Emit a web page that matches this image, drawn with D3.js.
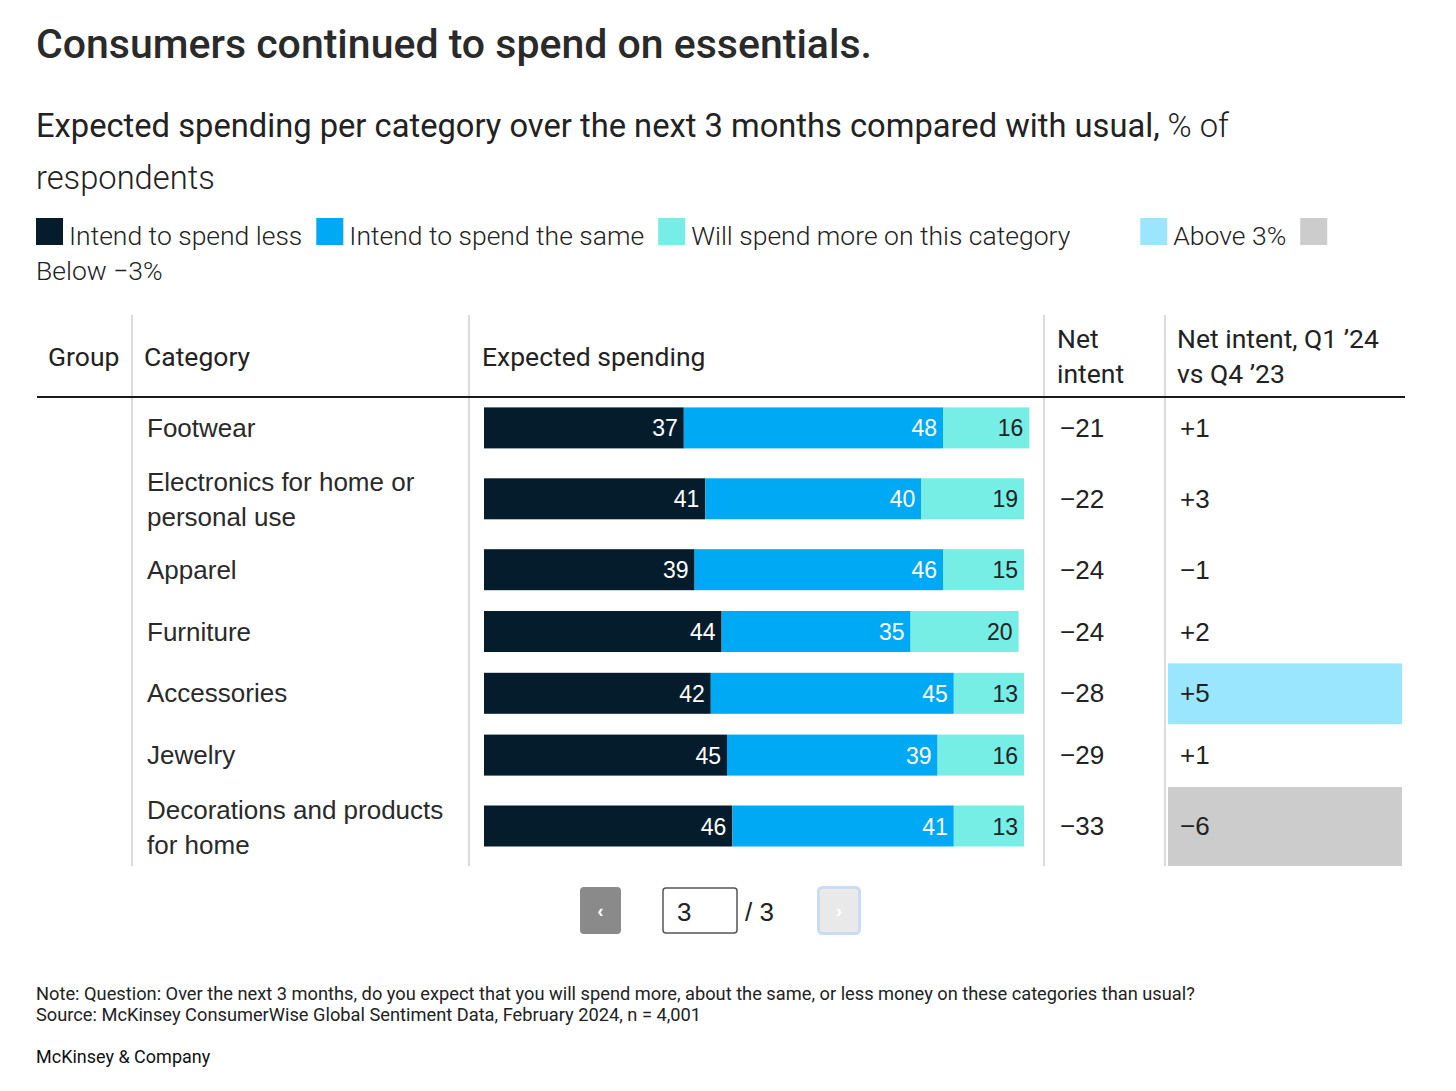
<!DOCTYPE html>
<html>
<head>
<meta charset="utf-8">
<script src="https://cdn.jsdelivr.net/npm/d3@7"></script>
<style>
  html, body { margin: 0; padding: 0; background: #fff; }
  svg { display: block; }
</style>
</head>
<body>
<svg id="chart" width="1456" height="1091"></svg>
<script>
// data
const categories = ["Footwear", "Electronics for home or personal use", "Apparel", "Furniture",
                    "Accessories", "Jewelry", "Decorations and products for home"];
const spendLess = [37, 41, 39, 44, 42, 45, 46];
const spendSame = [48, 40, 46, 35, 45, 39, 41];
const spendMore = [16, 19, 15, 20, 13, 16, 13];
const netIntent = [-21, -22, -24, -24, -28, -29, -33];
const netChange = [1, 3, -1, 2, 5, 1, -6];

const seriesNames = ["Intend to spend less", "Intend to spend the same", "Will spend more on this category"];
const seriesColors = ["#051c2c", "#00a9f4", "#76ede5"];
const highlightNames = ["Above 3%", "Below \u22123%"];
const highlightColors = ["#99e6fe", "#cccccc"];

const headFont = "Roboto, 'Noto Sans', sans-serif",
      bodyFont = "'Liberation Sans', Arial, sans-serif",
      ink = "#222";

const svg = d3.select("#chart");

// --- title block ---
svg.append("text")
    .attr("x", 36).attr("y", 58)
    .style("font-family", headFont).style("font-weight", 500).style("font-size", "41px")
    .style("fill", "#2a2a2a")
    .text("Consumers continued to spend on essentials.");

const sub = svg.append("text")
    .attr("x", 36).attr("y", 137)
    .style("font-family", headFont).style("font-size", "32.7px").style("fill", ink);
sub.append("tspan").style("font-weight", 400)
    .text("Expected spending per category over the next 3 months compared with usual,");
sub.append("tspan").style("font-weight", 300).text(" % of");
svg.append("text")
    .attr("x", 36).attr("y", 189)
    .style("font-family", headFont).style("font-weight", 300).style("font-size", "32.7px").style("fill", ink)
    .text("respondents");

// --- legend (flows like inline html) ---
const legendItems = seriesNames.map((n, i) => ({name: n, color: seriesColors[i], gap: 0}))
    .concat(highlightNames.map((n, i) => ({name: n, color: highlightColors[i], gap: i === 0 ? 56 : 0})));

const legend = svg.append("g").attr("class", "legend");
let lx = 36, ly = 245;
const sw = 27, lineH = 35, maxX = 1400;
legendItems.forEach(item => {
    lx += item.gap;
    legend.append("rect")
        .attr("x", lx).attr("y", ly - sw).attr("width", sw).attr("height", sw)
        .attr("fill", item.color);
    lx += sw + 6;
    const t = legend.append("text")
        .style("font-family", headFont).style("font-weight", 300).style("font-size", "26.5px")
        .style("fill", ink)
        .text(item.name);
    const w = t.node().getComputedTextLength();
    if (lx + w > maxX) { lx = 36; ly += lineH; }
    t.attr("x", lx).attr("y", ly);
    lx += w + 14;
});

// --- table layout ---
const tableTop = 397, tableLeft = 37, tableRight = 1405;
const cols = {group: 48, category: 147, bars: 469, net: 1044, change: 1165};
const lineW = 310;

// wrap category names
const measure = svg.append("text")
    .style("font-family", bodyFont).style("font-size", "26px").style("visibility", "hidden");
function wrap(str) {
    const words = str.split(" "), lines = [];
    let cur = "";
    words.forEach(w => {
        const test = cur ? cur + " " + w : w;
        measure.text(test);
        if (measure.node().getComputedTextLength() > lineW && cur) { lines.push(cur); cur = w; }
        else cur = test;
    });
    lines.push(cur);
    return lines;
}
const rows = categories.map((c, i) => ({
    name: c, lines: wrap(c),
    less: spendLess[i], same: spendSame[i], more: spendMore[i],
    net: netIntent[i], change: netChange[i]
}));
measure.remove();

rows.forEach(r => r.h = r.lines.length > 1 ? 80 : 61.8);
const ends = d3.cumsum(rows, r => r.h);
rows.forEach((r, i) => { r.y0 = tableTop + ends[i] - r.h; r.cy = r.y0 + r.h / 2; });
const tableBottom = tableTop + ends[ends.length - 1];

const x = d3.scaleLinear().domain([0, 100]).range([484, 1024]);
const barH = 41;

// highlight cells for the change column
const g = svg.append("g");
g.selectAll(".hl")
    .data(rows.filter(r => Math.abs(r.change) > 3))
    .join("rect")
    .attr("class", "hl")
    .attr("x", cols.change + 3).attr("width", 1402 - cols.change - 3)
    .attr("y", r => r.y0 + 1).attr("height", r => r.h - 1)
    .attr("fill", r => r.change > 3 ? highlightColors[0] : highlightColors[1]);

// column separators
[132, cols.bars, cols.net, cols.change].forEach(cx => {
    g.append("line")
        .attr("x1", cx).attr("x2", cx).attr("y1", 315).attr("y2", tableBottom)
        .attr("stroke", "#cfcfcf").attr("stroke-width", 1.5);
});

// header
const head = g.append("g")
    .style("font-family", headFont).style("font-size", "26.5px").style("fill", ink);
head.append("text").attr("x", 48).attr("y", 366).text("Group");
head.append("text").attr("x", 144).attr("y", 366).text("Category");
head.append("text").attr("x", 482).attr("y", 366).text("Expected spending");
head.append("text").attr("x", 1057).attr("y", 348).text("Net");
head.append("text").attr("x", 1057).attr("y", 383).text("intent");
head.append("text").attr("x", 1177).attr("y", 348).text("Net intent, Q1 \u201924");
head.append("text").attr("x", 1177).attr("y", 383).text("vs Q4 \u201923");

g.append("line")
    .attr("x1", tableLeft).attr("x2", tableRight).attr("y1", tableTop).attr("y2", tableTop)
    .attr("stroke", "#1a1a1a").attr("stroke-width", 2);

// category labels
const lab = g.selectAll(".cat").data(rows).join("text")
    .attr("class", "cat")
    .style("font-family", bodyFont).style("font-size", "26px").style("fill", "#2a2a2a")
    .attr("x", cols.category)
    .attr("y", r => r.cy + 9 - (r.lines.length - 1) * 16.5);
lab.selectAll("tspan").data(r => r.lines).join("tspan")
    .attr("x", cols.category).attr("dy", (d, i) => i ? 35 : 0).text(d => d);

// stacked bars
const stack = d3.stack().keys(["less", "same", "more"])(rows);
const layer = g.selectAll(".layer").data(stack).join("g")
    .attr("class", "layer").attr("fill", (d, i) => seriesColors[i]);
layer.selectAll("rect").data(d => d).join("rect")
    .attr("x", d => x(d[0]))
    .attr("width", d => x(d[1]) - x(d[0]))
    .attr("y", d => d.data.cy - barH / 2)
    .attr("height", barH);
layer.selectAll("text").data(d => d).join("text")
    .attr("x", d => x(d[1]) - 6)
    .attr("y", d => d.data.cy + 8.5)
    .attr("text-anchor", "end")
    .style("font-family", bodyFont).style("font-size", "23px")
    .style("fill", function() { return d3.select(this.parentNode).datum().key === "more" ? ink : "#fff"; })
    .text(d => d[1] - d[0]);

// net intent and change
const fmtNet = v => (v < 0 ? "\u2212" : "+") + Math.abs(v);
g.selectAll(".net").data(rows).join("text")
    .attr("class", "net")
    .attr("x", 1060).attr("y", r => r.cy + 9)
    .style("font-family", bodyFont).style("font-size", "26px").style("fill", ink)
    .text(r => fmtNet(r.net));
g.selectAll(".chg").data(rows).join("text")
    .attr("class", "chg")
    .attr("x", 1180).attr("y", r => r.cy + 9)
    .style("font-family", bodyFont).style("font-size", "26px").style("fill", ink)
    .text(r => fmtNet(r.change));

// --- pagination ---
const pg = svg.append("g");
pg.append("rect").attr("x", 580).attr("y", 887).attr("width", 41).attr("height", 47)
    .attr("rx", 4).attr("fill", "#8a8a8a");
pg.append("text").attr("x", 600.5).attr("y", 917).attr("text-anchor", "middle")
    .style("font-family", bodyFont).style("font-weight", 700).style("font-size", "18px").style("fill", "#fff")
    .text("\u2039");
pg.append("rect").attr("x", 663).attr("y", 888).attr("width", 74).attr("height", 45)
    .attr("rx", 3).attr("fill", "#fff").attr("stroke", "#555").attr("stroke-width", 1.5);
pg.append("text").attr("x", 677).attr("y", 921)
    .style("font-family", bodyFont).style("font-size", "26px").style("fill", ink).text("3");
pg.append("text").attr("x", 745).attr("y", 921)
    .style("font-family", bodyFont).style("font-size", "26px").style("fill", ink).text("/ 3");
pg.append("rect").attr("x", 818.5).attr("y", 887.5).attr("width", 41).attr("height", 46)
    .attr("rx", 4).attr("fill", "#e9e9e9").attr("stroke", "#c9dcf3").attr("stroke-width", 3);
pg.append("text").attr("x", 839).attr("y", 917).attr("text-anchor", "middle")
    .style("font-family", bodyFont).style("font-weight", 700).style("font-size", "18px").style("fill", "#fff")
    .text("\u203a");

// --- footnotes ---
const foot = svg.append("g")
    .style("font-family", headFont).style("font-weight", 400).style("font-size", "18.25px").style("fill", ink);
foot.append("text").attr("x", 36).attr("y", 1000)
    .text("Note: Question: Over the next 3 months, do you expect that you will spend more, about the same, or less money on these categories than usual?");
foot.append("text").attr("x", 36).attr("y", 1021)
    .text("Source: McKinsey ConsumerWise Global Sentiment Data, February 2024, n = 4,001");
svg.append("text").attr("x", 36).attr("y", 1063)
    .style("font-family", headFont).style("font-weight", 400).style("font-size", "18px").style("fill", "#111")
    .text("McKinsey & Company");
</script>
</body>
</html>
